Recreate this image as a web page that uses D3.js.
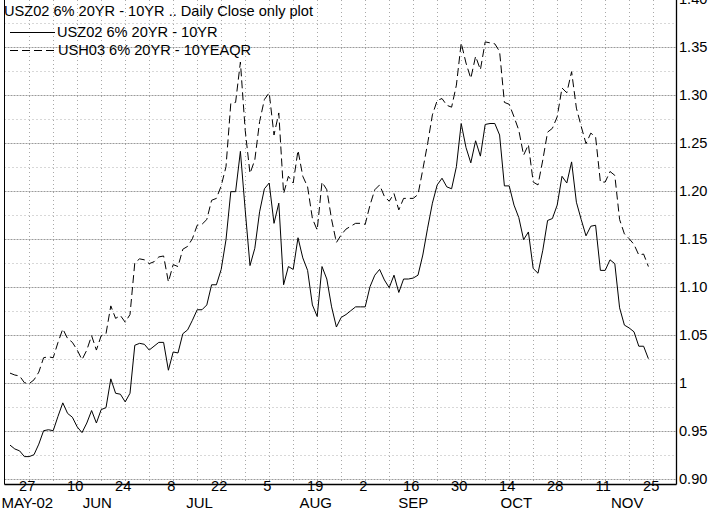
<!DOCTYPE html>
<html><head><meta charset="utf-8">
<script src="https://cdn.jsdelivr.net/npm/d3@7"></script>
<style>
html,body{margin:0;padding:0;background:#fff;}
svg{display:block;font-family:"Liberation Sans",Arial,sans-serif;}
</style></head>
<body>
<svg id="c" width="709" height="514"></svg>
<script>
// ---- data (trading-day index 0 = 21 May 2002 ... 133 = 22 Nov 2002)
const seriesNames = ["USZ02 6% 20YR - 10YR", "USH03 6% 20YR - 10YEAQR"];
const titleText = "USZ02 6% 20YR - 10YR .. Daily Close only plot";
const usz02 = [0.935,0.931,0.929,0.923,0.923,0.925,0.936,0.950,0.951,0.950,
 0.965,0.979,0.968,0.964,0.954,0.948,0.958,0.971,0.958,0.972,
 0.974,1.004,0.989,0.988,0.980,0.989,1.039,1.041,1.040,1.034,
 1.038,1.042,1.042,1.013,1.032,1.031,1.051,1.055,1.065,1.076,
 1.076,1.081,1.102,1.102,1.118,1.149,1.199,1.199,1.241,1.180,
 1.122,1.140,1.178,1.202,1.208,1.166,1.187,1.102,1.121,1.118,
 1.151,1.130,1.117,1.081,1.069,1.121,1.108,1.079,1.058,1.068,
 1.071,1.075,1.079,1.079,1.079,1.100,1.112,1.118,1.107,1.099,
 1.112,1.094,1.108,1.108,1.109,1.112,1.133,1.161,1.187,1.206,
 1.213,1.204,1.202,1.225,1.270,1.245,1.229,1.252,1.236,1.269,
 1.270,1.270,1.258,1.205,1.205,1.185,1.172,1.149,1.157,1.119,
 1.114,1.138,1.169,1.171,1.185,1.215,1.208,1.230,1.188,1.170,
 1.153,1.163,1.164,1.117,1.117,1.128,1.124,1.078,1.060,1.057,
 1.053,1.038,1.038,1.025];
const ush03 = [1.010,1.008,1.007,1.000,0.999,1.003,1.011,1.026,1.027,1.026,
 1.042,1.056,1.046,1.042,1.034,1.024,1.034,1.049,1.034,1.049,
 1.051,1.080,1.067,1.070,1.063,1.071,1.125,1.129,1.128,1.124,
 1.126,1.131,1.132,1.105,1.123,1.121,1.139,1.142,1.150,1.164,
 1.165,1.170,1.190,1.192,1.205,1.225,1.291,1.292,1.334,1.263,
 1.218,1.232,1.272,1.295,1.302,1.258,1.281,1.197,1.215,1.208,
 1.242,1.215,1.204,1.171,1.159,1.209,1.201,1.170,1.146,1.154,
 1.160,1.163,1.166,1.166,1.165,1.185,1.201,1.206,1.194,1.189,
 1.197,1.180,1.192,1.192,1.192,1.196,1.222,1.249,1.279,1.294,
 1.296,1.289,1.287,1.310,1.354,1.333,1.317,1.340,1.326,1.355,
 1.354,1.353,1.345,1.292,1.290,1.277,1.263,1.237,1.248,1.209,
 1.206,1.232,1.261,1.265,1.277,1.307,1.302,1.324,1.286,1.267,
 1.249,1.260,1.256,1.209,1.209,1.220,1.216,1.170,1.155,1.150,
 1.144,1.133,1.134,1.121];
// x-axis tick labels (day of month) at trading-day index
const dayTickIdx = [4,14,24,34,44,54,64,74,84,94,104,114,124,134];
const dayTickLabels = ["27","10","24","8","22","5","19","2","16","30","14","28","11","25"];
const monthLabels = ["MAY-02","JUN","JUL","AUG","SEP","OCT","NOV"];
const monthIdx = [3.6,18.2,39.5,63.7,84,105.5,128.6];
const yTickVals = [0.90,0.95,1.00,1.05,1.10,1.15,1.20,1.25,1.30,1.35,1.40];
const yTickLabels = ["0.90","0.95","1","1.05","1.10","1.15","1.20","1.25","1.30","1.35","1.40"];

// ---- layout
const W = 709, H = 514;
const pLeft = 4.5, pRight = 676.5, pBottom = 484.5, pTop = 0;
const x = d3.scaleLinear().domain([0, 133]).range([10, 648.4]);
const y = d3.scaleLinear().domain([0.90, 1.40]).range([478.7, -1.3]);

const svg = d3.select("#c");
svg.append("rect").attr("width", W).attr("height", H).attr("fill", "#fff");

const grid = svg.append("g");
// horizontal gridlines every 0.025
d3.range(0, 21).forEach(k => {
  const v = 0.90 + k * 0.025;
  const yy = Math.round(y(v)) + 0.5;
  const major = k % 2 === 0;
  grid.append("line").attr("x1", pLeft).attr("x2", pRight).attr("y1", yy).attr("y2", yy)
    .attr("stroke", major ? "#9a9a9a" : "#b0b0b0").attr("stroke-width", 1)
    .attr("stroke-dasharray", major ? "2,1" : "1,3");
});
// vertical gridlines every week
d3.range(-1, 140, 5).forEach(i => {
  const xx = Math.round(x(i)) + 0.5;
  if (xx <= pLeft + 1 || xx >= pRight - 1) return;
  grid.append("line").attr("x1", xx).attr("x2", xx).attr("y1", pTop).attr("y2", pBottom)
    .attr("stroke", "#a8a8a8").attr("stroke-width", 1).attr("stroke-dasharray", "1,3");
});

// frame
svg.append("line").attr("x1", pLeft).attr("x2", pLeft).attr("y1", 0).attr("y2", pBottom).attr("stroke", "#000").attr("stroke-width", 1);
svg.append("line").attr("x1", pRight).attr("x2", pRight).attr("y1", 0).attr("y2", pBottom).attr("stroke", "#000").attr("stroke-width", 1.3);
svg.append("line").attr("x1", pLeft).attr("x2", pRight).attr("y1", pBottom).attr("y2", pBottom).attr("stroke", "#000").attr("stroke-width", 1.3);

// lines
const line = d3.line().x((d, i) => x(i)).y(d => y(d));
svg.append("path").datum(usz02).attr("d", line).attr("fill", "none").attr("stroke", "#000").attr("stroke-width", 1);
svg.append("path").datum(ush03).attr("d", line).attr("fill", "none").attr("stroke", "#000").attr("stroke-width", 1).attr("stroke-dasharray", "8,4");

// right axis labels
const fs = 14.6;
yTickVals.forEach((v, k) => {
  svg.append("text").attr("x", 679).attr("y", Math.min(y(v), 481) + 5).attr("font-size", fs).attr("fill", "#000").text(yTickLabels[k]);
});
// bottom axis labels
dayTickIdx.forEach((i, k) => {
  svg.append("text").attr("x", x(i) - 2).attr("y", 490.5).attr("text-anchor", "middle").attr("font-size", fs).text(dayTickLabels[k]);
});
monthLabels.forEach((m, k) => {
  svg.append("text").attr("x", x(monthIdx[k])).attr("y", 507.5).attr("text-anchor", "middle").attr("font-size", 15).text(m);
});

// title & legend
svg.append("text").attr("x", 4).attr("y", 16).attr("font-size", fs).text(titleText);
svg.append("line").attr("x1", 10).attr("x2", 55).attr("y1", 32.5).attr("y2", 32.5).attr("stroke", "#000");
svg.append("text").attr("x", 57).attr("y", 37).attr("font-size", fs).text(seriesNames[0]);
svg.append("line").attr("x1", 10).attr("x2", 55).attr("y1", 50.5).attr("y2", 50.5).attr("stroke", "#000").attr("stroke-dasharray", "8,4");
svg.append("text").attr("x", 58).attr("y", 55).attr("font-size", fs).text(seriesNames[1]);
</script>
</body></html>
